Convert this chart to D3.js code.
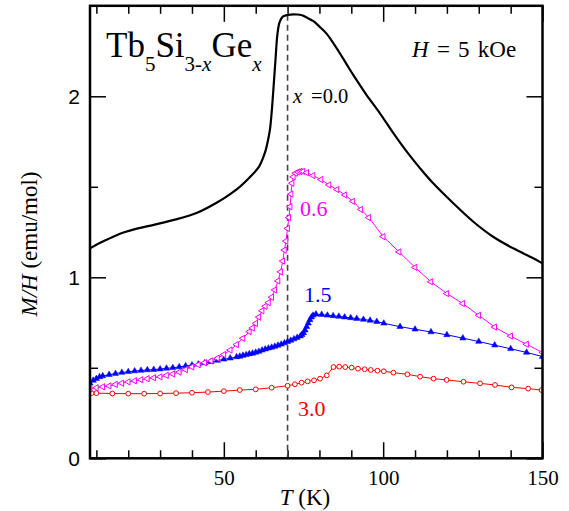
<!DOCTYPE html>
<html>
<head>
<meta charset="utf-8">
<script src="https://cdn.jsdelivr.net/npm/d3@7"></script>
<style>
body { margin: 0; background: #fff; }
svg { display: block; }
</style>
</head>
<body>
<svg id="chart" width="569" height="511"></svg>
<script>
"use strict"

const xTicksMajor = [50, 100, 150]
const xTicksMinor = [10, 20, 30, 40, 60, 70, 80, 90, 110, 120, 130, 140]
const yTicksMajor = [0, 1, 2]
const yTicksMinor = [0.5, 1.5]

// [T (K), M/H (emu/mol)]
const serieX00 = [[8, 1.16], [10, 1.18], [13, 1.206], [16, 1.23], [19, 1.25], [23, 1.27], [28, 1.29],
    [35, 1.32], [42, 1.36], [48, 1.415], [52, 1.46], [55, 1.50], [58, 1.55], [61, 1.61], [62.3, 1.66],
    [63.1, 1.70], [63.9, 1.76], [64.5, 1.82], [65, 1.91], [65.6, 2.05], [66.2, 2.20], [66.8, 2.34],
    [67.5, 2.41], [68.5, 2.44], [70, 2.45], [73, 2.452], [74.5, 2.448], [76, 2.435], [78.1, 2.415],
    [80, 2.385], [82.3, 2.345], [84.3, 2.295], [86.4, 2.238], [88.5, 2.178], [90.6, 2.118], [92.7, 2.062],
    [94.8, 2.007], [99, 1.906], [103.2, 1.796], [107.4, 1.694], [111.6, 1.602], [115.7, 1.519],
    [122, 1.409], [128.3, 1.307], [134.5, 1.224], [140.8, 1.16], [147.1, 1.105], [150, 1.077]]

const serieX06 = [[8, 0.385], [10, 0.39], [12, 0.395], [14, 0.40], [16, 0.408], [18, 0.415], [20, 0.422],
    [22, 0.428], [24, 0.434], [26, 0.44], [28, 0.445], [30, 0.45], [32, 0.458], [34, 0.466], [36, 0.476],
    [38, 0.49], [40, 0.505], [42, 0.517], [44, 0.528], [46, 0.538], [48, 0.553], [50, 0.573], [52, 0.598],
    [54, 0.628], [56, 0.663], [58, 0.70], [59, 0.72], [60, 0.745], [61, 0.78], [62, 0.815], [63, 0.84],
    [64, 0.86], [65, 0.89], [66, 0.93], [67, 0.98], [67.8, 1.03], [68.5, 1.09], [69, 1.15], [69.5, 1.20],
    [70, 1.27], [70.4, 1.33], [70.8, 1.39], [71.1, 1.46], [71.4, 1.52], [71.8, 1.555], [72.5, 1.575],
    [73.3, 1.582], [74, 1.585], [74.8, 1.585], [76, 1.578], [78, 1.562], [80.5, 1.54], [83, 1.51],
    [85.5, 1.485], [88, 1.455], [90.5, 1.42], [93, 1.375], [95.5, 1.33], [100, 1.225], [105, 1.14],
    [110, 1.055], [115, 0.975], [120, 0.91], [125, 0.855], [130, 0.79], [135, 0.725], [140, 0.675],
    [145, 0.63], [150, 0.585]]

const serieX15 = [[8, 0.415], [9, 0.43], [10, 0.44], [11, 0.45], [12, 0.455], [14, 0.462], [16, 0.468],
    [18, 0.474], [20, 0.478], [22, 0.482], [24, 0.485], [26, 0.488], [28, 0.49], [30, 0.493], [32, 0.497],
    [34, 0.50], [36, 0.505], [38, 0.51], [40, 0.515], [42, 0.52], [44, 0.527], [46, 0.533], [48, 0.54],
    [50, 0.547], [52, 0.553], [54, 0.56], [55, 0.563], [56, 0.568], [57, 0.572], [58, 0.577], [59, 0.58],
    [60, 0.585], [61, 0.59], [62, 0.597], [63, 0.603], [64, 0.608], [65, 0.613], [66, 0.618], [67, 0.624],
    [68, 0.63], [69, 0.637], [70, 0.644], [71, 0.651], [72, 0.659], [73, 0.667], [74, 0.675], [74.5, 0.683],
    [75, 0.693], [75.5, 0.708], [76, 0.727], [76.5, 0.746], [77, 0.765], [77.5, 0.78], [78, 0.79],
    [78.9, 0.796], [80.7, 0.794], [82.5, 0.79], [84.3, 0.787], [86.1, 0.784], [87.9, 0.78], [89.8, 0.776],
    [91.7, 0.772], [93.8, 0.767], [95.9, 0.762], [98, 0.755], [100.2, 0.746], [105.3, 0.727], [110, 0.713],
    [115, 0.698], [120, 0.682], [125, 0.664], [130, 0.645], [135, 0.625], [140, 0.605], [145, 0.585],
    [150, 0.562]]

const serieX30 = [[8.5, 0.36], [10, 0.36], [15, 0.358], [20, 0.357], [25, 0.357], [30, 0.358], [35, 0.36],
    [40, 0.362], [45, 0.366], [50, 0.371], [55, 0.377], [60, 0.381], [65, 0.39], [70, 0.401], [72.3, 0.409],
    [74.4, 0.418], [76.3, 0.425], [78.3, 0.431], [80.2, 0.44], [82.3, 0.458], [84.4, 0.504], [86.2, 0.506],
    [88.1, 0.504], [90.1, 0.501], [92.1, 0.495], [94.2, 0.492], [96.1, 0.488], [98.2, 0.484], [100.2, 0.481],
    [103.2, 0.473], [107.6, 0.464], [111.6, 0.451], [115.8, 0.44], [119.9, 0.433], [125.2, 0.423],
    [130.4, 0.414], [135.1, 0.405], [140.3, 0.392], [145.5, 0.385], [149.7, 0.377]]

const overgangT = 70

const serif = "'Liberation Serif', 'Times New Roman', serif"
const sans = "'Liberation Sans', Arial, sans-serif"

const svg = d3.select("#chart")

const x = d3.scaleLinear().domain([8, 150]).range([90, 542.5])
const y = d3.scaleLinear().domain([0, 2.5]).range([458.3, 5.8])

svg.append("defs").append("clipPath").attr("id", "vak")
    .append("rect")
    .attr("x", x(8)).attr("y", y(2.5))
    .attr("width", x(150) - x(8)).attr("height", y(0) - y(2.5))

const tekenAs = (as, transform, font, size) =>{
    svg.append("g")
        .attr("transform", transform)
        .call(as)
        .call(g => g.select(".domain").remove())
        .call(g => g.selectAll("line").attr("stroke-width", 1.5))
        .call(g => g.selectAll("text").attr("font-family", font).attr("font-size", size).attr("fill", "#000"))
}

// onderkant en bovenkant
tekenAs(d3.axisBottom(x).tickValues(xTicksMajor).tickSizeInner(-16).tickSizeOuter(0).tickPadding(12).tickFormat(d3.format("d")),
    `translate(0,${y(0)})`, serif, 21)
tekenAs(d3.axisBottom(x).tickValues(xTicksMinor).tickSizeInner(-8).tickSizeOuter(0).tickFormat(""),
    `translate(0,${y(0)})`, serif, 21)
tekenAs(d3.axisTop(x).tickValues(xTicksMajor).tickSizeInner(-16).tickSizeOuter(0).tickFormat(""),
    `translate(0,${y(2.5)})`, serif, 21)
tekenAs(d3.axisTop(x).tickValues(xTicksMinor).tickSizeInner(-8).tickSizeOuter(0).tickFormat(""),
    `translate(0,${y(2.5)})`, serif, 21)

// links en rechts
tekenAs(d3.axisLeft(y).tickValues(yTicksMajor).tickSizeInner(-16).tickSizeOuter(0).tickPadding(10).tickFormat(d3.format("d")),
    `translate(${x(8)},0)`, sans, 21)
tekenAs(d3.axisLeft(y).tickValues(yTicksMinor).tickSizeInner(-8).tickSizeOuter(0).tickFormat(""),
    `translate(${x(8)},0)`, sans, 21)
tekenAs(d3.axisRight(y).tickValues(yTicksMajor).tickSizeInner(-16).tickSizeOuter(0).tickFormat(""),
    `translate(${x(150)},0)`, sans, 21)
tekenAs(d3.axisRight(y).tickValues(yTicksMinor).tickSizeInner(-8).tickSizeOuter(0).tickFormat(""),
    `translate(${x(150)},0)`, sans, 21)

const vak = svg.append("g").attr("clip-path", "url(#vak)")

// stippellijn bij de overgang
vak.append("line")
    .attr("x1", x(overgangT)).attr("x2", x(overgangT))
    .attr("y1", y(2.45)).attr("y2", y(0))
    .attr("stroke", "#444")
    .attr("stroke-width", 1.6)
    .attr("stroke-dasharray", "6,4")

const lijn = d3.line().x(d => x(d[0])).y(d => y(d[1]))

const tekenSerie = (data, kleur, symbool, draai, gevuld) =>{
    vak.append("path")
        .datum(data)
        .attr("d", lijn)
        .attr("fill", "none")
        .attr("stroke", kleur)
        .attr("stroke-width", 1)

    vak.append("g")
        .selectAll("path")
        .data(data)
        .enter()
        .append("path")
        .attr("d", d3.symbol().type(symbool).size(symbool === d3.symbolCircle ? 18 : 17))
        .attr("transform", d => `translate(${x(d[0])},${y(d[1])}) rotate(${draai})`)
        .attr("fill", gevuld ? kleur : "#fff")
        .attr("stroke", kleur)
        .attr("stroke-width", gevuld ? 0.5 : 1)
}

tekenSerie(serieX30, "#ff0000", d3.symbolCircle, 0, false)
tekenSerie(serieX15, "#0000ff", d3.symbolTriangle, 0, true)
tekenSerie(serieX06, "#ff00ff", d3.symbolTriangle, -90, false)

vak.append("path")
    .datum(serieX00)
    .attr("d", d3.line().x(d => x(d[0])).y(d => y(d[1])).curve(d3.curveCatmullRom.alpha(0.5)))
    .attr("fill", "none")
    .attr("stroke", "#000")
    .attr("stroke-width", 2.2)

svg.append("rect")
    .attr("x", x(8)).attr("y", y(2.5))
    .attr("width", x(150) - x(8)).attr("height", y(0) - y(2.5))
    .attr("fill", "none")
    .attr("stroke", "#000")
    .attr("stroke-width", 2.5)

// titel Tb5Si3-xGex
const titel = svg.append("text")
    .attr("x", 106).attr("y", 56.7)
    .attr("font-family", serif)
    .attr("font-size", 35)
titel.append("tspan").text("Tb")
titel.append("tspan").attr("font-size", 21).attr("dy", 14).text("5")
titel.append("tspan").attr("dy", -14).text("Si")
titel.append("tspan").attr("font-size", 21).attr("dy", 14).text("3-")
titel.append("tspan").attr("font-size", 21).attr("font-style", "italic").text("x")
titel.append("tspan").attr("dy", -14).text("Ge")
titel.append("tspan").attr("font-size", 21).attr("dy", 14).attr("font-style", "italic").text("x")

const veld = svg.append("text")
    .attr("x", 412).attr("y", 57.3)
    .attr("font-family", serif)
    .attr("font-size", 23)
    .attr("word-spacing", 2.5)
veld.append("tspan").attr("font-style", "italic").text("H")
veld.append("tspan").text(" = 5 kOe")

const xLabel = svg.append("text")
    .attr("x", 293).attr("y", 102.5)
    .attr("font-family", serif)
    .attr("font-size", 20.5)
xLabel.append("tspan").attr("font-style", "italic").text("x")
xLabel.append("tspan").attr("dx", 9).text("=0.0")

const serieLabels = [
    {tekst: "0.6", kleur: "#ff00ff", px: 300, py: 216},
    {tekst: "1.5", kleur: "#0000ff", px: 304, py: 302},
    {tekst: "3.0", kleur: "#ff0000", px: 298, py: 416}
]
svg.selectAll("text.serie")
    .data(serieLabels)
    .enter()
    .append("text")
    .attr("class", "serie")
    .attr("x", d => d.px).attr("y", d => d.py)
    .attr("font-family", serif)
    .attr("font-size", 22)
    .attr("fill", d => d.kleur)
    .text(d => d.tekst)

// astitels
const tLabel = svg.append("text")
    .attr("x", 305).attr("y", 505)
    .attr("text-anchor", "middle")
    .attr("font-family", serif)
    .attr("font-size", 23)
tLabel.append("tspan").attr("font-style", "italic").text("T")
tLabel.append("tspan").text(" (K)")

const mLabel = svg.append("text")
    .attr("transform", "translate(36.5,244) rotate(-90)")
    .attr("text-anchor", "middle")
    .attr("font-family", serif)
    .attr("font-size", 23)
mLabel.append("tspan").attr("font-style", "italic").text("M/H")
mLabel.append("tspan").text(" (emu/mol)")
</script>
</body>
</html>
